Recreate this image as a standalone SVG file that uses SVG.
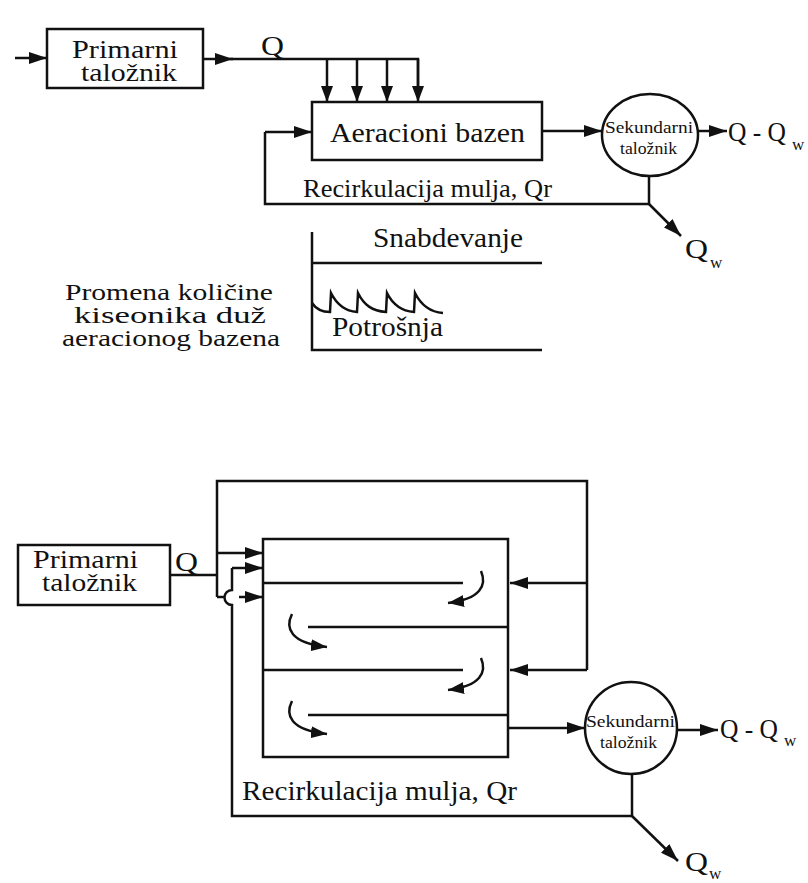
<svg xmlns="http://www.w3.org/2000/svg" width="808" height="883" viewBox="0 0 808 883" font-family="'Liberation Serif', 'DejaVu Serif', serif">
<defs>
<marker id="ah" markerUnits="userSpaceOnUse" markerWidth="18" markerHeight="12" refX="18" refY="6" orient="auto">
<path d="M0,0 L18,6 L0,12 z" fill="#111"/>
</marker>
<marker id="ahs" markerUnits="userSpaceOnUse" markerWidth="16" markerHeight="12" refX="16" refY="6" orient="auto">
<path d="M0,0 L16,6 L0,12 z" fill="#111"/>
</marker>
</defs>
<style>
.ln{fill:none;stroke:#111;stroke-width:2.5}
.bx{fill:#fff;stroke:#111;stroke-width:2.5}
.ar{fill:none;stroke:#111;stroke-width:2.5;marker-end:url(#ah)}
.as{fill:none;stroke:#111;stroke-width:2.5;marker-end:url(#ahs)}
text{font-family:'Liberation Serif','DejaVu Serif',serif;fill:#111}
.t22{font-size:25px}
.t23{font-size:24px}
.t24{font-size:26px}
.t26{font-size:28px}
.t15{font-size:16px}
.sub{font-size:17px}
</style>
<rect width="808" height="883" fill="#fff"/>

<!-- ===== TOP DIAGRAM ===== -->
<g id="connectors-top">
<path class="ar" d="M15,58 H47"/>
<path class="ar" d="M203,59 H233"/>
<path class="ln" d="M230,59 H418 V86"/>
<path class="as" d="M327,59 V102"/>
<path class="as" d="M357,59 V102"/>
<path class="as" d="M387,59 V102"/>
<path class="as" d="M418,59 V102"/>
<path class="ar" d="M542,131 H602"/>
<path class="ar" d="M698,131 H727"/>
<path class="ln" d="M649,176 V204 H265 V132"/>
<path class="ar" d="M265,132 H312"/>
<path class="ar" d="M649,204 L681,236"/>
</g>
<g id="primarni-1" font-family="'Liberation Serif', serif">
<rect class="bx" x="47" y="29" width="156" height="59"/>
<text class="t22" x="72" y="58" textLength="106" lengthAdjust="spacingAndGlyphs">Primarni</text>
<text class="t22" x="81" y="81" textLength="96" lengthAdjust="spacingAndGlyphs">taložnik</text>
</g>
<g id="aeracioni" font-family="'Liberation Serif', serif">
<rect class="bx" x="312" y="102" width="230" height="58"/>
<text class="t26" x="330" y="142" textLength="195" lengthAdjust="spacingAndGlyphs">Aeracioni bazen</text>
</g>
<g id="sekundarni-1" font-family="'Liberation Serif', serif">
<ellipse class="bx" cx="650" cy="135" rx="48" ry="41"/>
<text class="t15" x="605" y="133" textLength="88" lengthAdjust="spacingAndGlyphs">Sekundarni</text>
<text class="t15" x="620" y="154" textLength="57" lengthAdjust="spacingAndGlyphs">taložnik</text>
</g>
<g id="labels-top" font-family="'Liberation Serif', serif">
<text class="t26" x="261" y="55" textLength="23" lengthAdjust="spacingAndGlyphs">Q</text>
<text class="t26" x="728" y="141" textLength="58" lengthAdjust="spacingAndGlyphs">Q - Q</text>
<text class="sub" x="792" y="150">w</text>
<text class="t24" x="303" y="197" textLength="249" lengthAdjust="spacingAndGlyphs">Recirkulacija mulja, Qr</text>
<text class="t26" x="685" y="258" textLength="23" lengthAdjust="spacingAndGlyphs">Q</text>
<text class="sub" x="710" y="268">w</text>
</g>

<!-- ===== OXYGEN CHART ===== -->
<g id="oxygen-chart" font-family="'Liberation Serif', serif">
<path class="ln" d="M312,232 V350 H542"/>
<path class="ln" d="M312,263 H542"/>
<path class="ln" stroke-width="2" d="M312,303 C316,309 322,312 330,312 L331,293 C337,305 345,311 357,312 L358,293 C364,305 372,311 386,312 L387,293 C393,305 401,311 414,312 L415,293 C421,305 429,312 443,313"/>
<text class="t26" x="373" y="247" textLength="150" lengthAdjust="spacingAndGlyphs">Snabdevanje</text>
<text class="t26" x="332" y="336" textLength="111" lengthAdjust="spacingAndGlyphs">Potrošnja</text>
<text class="t23" x="65" y="300" textLength="208" lengthAdjust="spacingAndGlyphs">Promena količine</text>
<text class="t23" x="74" y="323" textLength="192" lengthAdjust="spacingAndGlyphs">kiseonika duž</text>
<text class="t23" x="62" y="346" textLength="218" lengthAdjust="spacingAndGlyphs">aeracionog bazena</text>
</g>

<!-- ===== BOTTOM DIAGRAM ===== -->
<g id="connectors-bottom">
<path class="ln" d="M170,575 H217"/>
<path class="ln" d="M217,597 V481 H587 V670"/>
<path class="ar" d="M217,553 H263"/>
<path class="ln" d="M217,597 H225"/>
<path class="ar" d="M239,597 H263"/>
<path class="ln" d="M632,774 V816 H232 V605 A7,7 0 0 1 232,590 V568"/>
<path class="ar" d="M232,568 H263"/>
<path class="ar" d="M587,583 H510"/>
<path class="ar" d="M587,670 H510"/>
<path class="ar" d="M508,728 H585"/>
<path class="ar" d="M677,730 H718"/>
<path class="ar" d="M632,816 L678,861"/>
</g>
<g id="primarni-2" font-family="'Liberation Serif', serif">
<rect class="bx" x="18" y="545" width="152" height="60"/>
<text class="t22" x="33" y="568" textLength="105" lengthAdjust="spacingAndGlyphs">Primarni</text>
<text class="t22" x="42" y="591" textLength="95" lengthAdjust="spacingAndGlyphs">taložnik</text>
</g>
<g id="bazen-2">
<rect class="bx" x="263" y="539" width="245" height="218"/>
<path class="ln" d="M263,583 H463 M308,627 H508 M263,670 H463 M308,715 H508"/>
<path class="as" d="M481,571 C487,585 481,599 448,603"/>
<path class="as" d="M481,658 C487,672 481,686 448,690"/>
<path class="as" d="M292,614 C285,628 290,643 327,647"/>
<path class="as" d="M292,701 C285,715 290,730 327,734"/>
</g>
<g id="sekundarni-2" font-family="'Liberation Serif', serif">
<circle class="bx" cx="631" cy="728" r="46"/>
<text class="t15" x="586" y="727" textLength="89" lengthAdjust="spacingAndGlyphs">Sekundarni</text>
<text class="t15" x="600" y="748" textLength="57" lengthAdjust="spacingAndGlyphs">taložnik</text>
</g>
<g id="labels-bottom" font-family="'Liberation Serif', serif">
<text class="t26" x="175" y="571" textLength="23" lengthAdjust="spacingAndGlyphs">Q</text>
<text class="t26" x="720" y="738" textLength="58" lengthAdjust="spacingAndGlyphs">Q - Q</text>
<text class="sub" x="784" y="746">w</text>
<text class="t26" x="242" y="800" textLength="275" lengthAdjust="spacingAndGlyphs">Recirkulacija mulja, Qr</text>
<text class="t26" x="685" y="871" textLength="23" lengthAdjust="spacingAndGlyphs">Q</text>
<text class="sub" x="709" y="879">w</text>
</g>
</svg>
